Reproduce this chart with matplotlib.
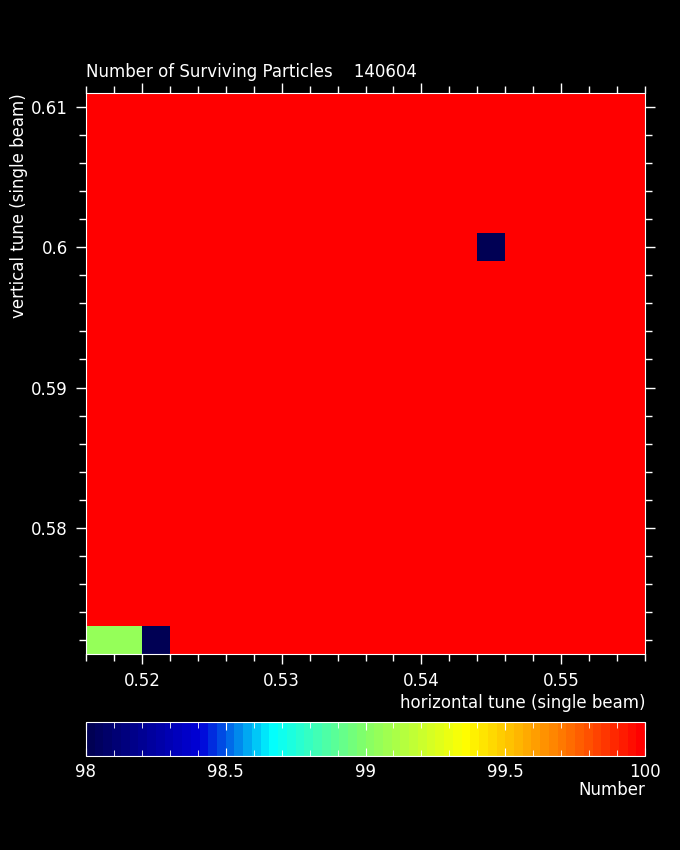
import numpy as np
import matplotlib
matplotlib.use("Agg")
import matplotlib.pyplot as plt
from matplotlib.colors import LinearSegmentedColormap
from matplotlib.ticker import MultipleLocator

# tune grid (cell centres)
x_tunes = np.round(np.arange(0.517, 0.556, 0.002), 3)
y_tunes = np.round(np.arange(0.572, 0.611, 0.002), 3)

# surviving particles: 100 everywhere except these cells (ix, iy, value)
base_value = 100.0
losses = [(0, 0, 99.05), (1, 0, 99.05), (2, 0, 98.0), (14, 14, 98.0)]

title = "Number of Surviving Particles    140604"
x_name = "horizontal tune (single beam)"
y_name = "vertical tune (single beam)"

Z = np.full((len(y_tunes), len(x_tunes)), base_value)
for ix, iy, v in losses:
    Z[iy, ix] = v

cmap = LinearSegmentedColormap.from_list("survive", [
    (0.00, (0.0, 0.0, 0.33)),
    (0.20, (0.0, 0.0, 0.85)),
    (0.33, (0.0, 1.0, 1.0)),
    (0.50, (0.52, 1.0, 0.4)),
    (0.68, (1.0, 1.0, 0.0)),
    (0.85, (1.0, 0.5, 0.0)),
    (1.00, (1.0, 0.0, 0.0)),
], N=64)

fs = 12
plt.rcParams["font.family"] = "DejaVu Sans"
fig = plt.figure(figsize=(6.8, 8.5), dpi=100, facecolor="black")
ax = fig.add_axes([86/680, 1-654/850, 559/680, 561/850], facecolor="black")

dx = 0.002
xe = np.append(x_tunes - dx/2, x_tunes[-1] + dx/2)
ye = np.append(y_tunes - dx/2, y_tunes[-1] + dx/2)
mesh = ax.pcolormesh(xe, ye, Z, cmap=cmap, vmin=98, vmax=100)
ax.set_xlim(xe[0], xe[-1])
ax.set_ylim(ye[0], ye[-1])

fmt = plt.FuncFormatter(lambda v, p: ("%.2f" % v).rstrip("0").rstrip("."))
ax.xaxis.set_major_locator(MultipleLocator(0.01))
ax.xaxis.set_minor_locator(MultipleLocator(0.002))
ax.yaxis.set_major_locator(MultipleLocator(0.01))
ax.yaxis.set_minor_locator(MultipleLocator(0.002))
ax.xaxis.set_major_formatter(fmt)
ax.yaxis.set_major_formatter(fmt)
ax.tick_params(which="both", direction="out", colors="white", top=True, right=True,
               labelsize=fs, width=1)
ax.tick_params(which="major", length=7, pad=6)
ax.tick_params(which="minor", length=5)
for s in ax.spines.values():
    s.set_color("white")

ax.set_xlabel(x_name, color="white", fontsize=fs, loc="right", labelpad=3)
ax.set_ylabel(y_name, color="white", fontsize=fs, loc="top", labelpad=2)
fig.text(86/680, 1-72/850, title, color="white", fontsize=fs, va="center", ha="left")

cax = fig.add_axes([86/680, 1-756/850, 559/680, 34/850], facecolor="black")
cb = fig.colorbar(mesh, cax=cax, orientation="horizontal")
cb.outline.set_edgecolor("white")
cb.set_ticks([98, 98.5, 99, 99.5, 100])
cb.set_ticklabels(["98", "98.5", "99", "99.5", "100"])
cax.xaxis.set_minor_locator(MultipleLocator(0.1))
cax.tick_params(which="both", direction="in", colors="white", top=True, bottom=True, labelsize=fs)
cax.tick_params(which="major", length=6, pad=5)
cax.tick_params(which="minor", length=4)
cax.set_xlabel("Number", color="white", fontsize=fs, loc="right", labelpad=0)

fig.savefig("out.png", dpi=100, facecolor="black")
